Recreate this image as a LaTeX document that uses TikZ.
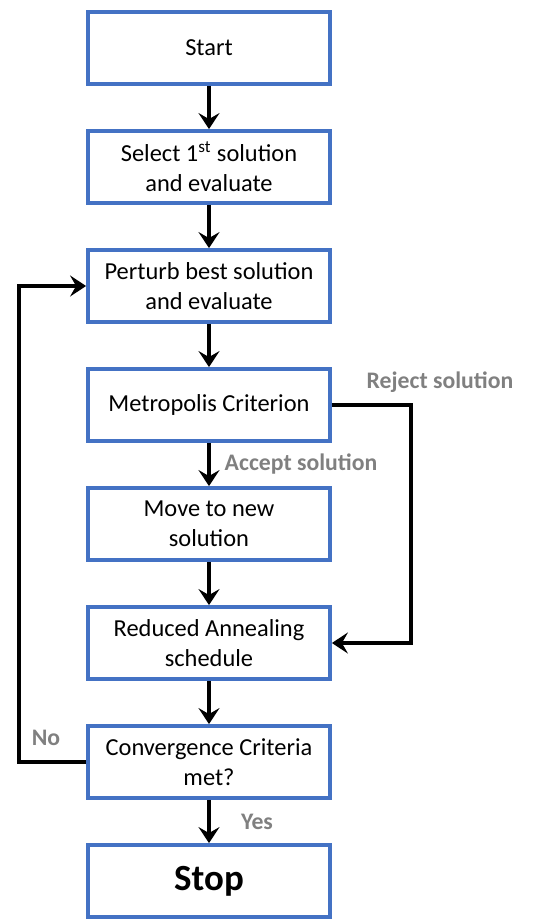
\documentclass[tikz,border=0pt]{standalone}
\usepackage{fontspec}
\setmainfont{Carlito}
\usepackage{xcolor}
\usetikzlibrary{arrows.meta}
\definecolor{boxblue}{RGB}{68,114,196}
\definecolor{labelgray}{RGB}{128,128,128}

\begin{document}
\begin{tikzpicture}[>={Stealth[length=0.32cm,width=0.42cm,inset=0.12cm]},x=0.02cm,y=-0.02cm,
    stepbox/.style={draw=boxblue,line width=2.2pt,fill=white,minimum width=4.84cm,
      minimum height=1.44cm,align=center,font=\fontsize{13.9}{17}\selectfont},
    flow/.style={->,line width=2.3pt,black},
    branch/.style={text=labelgray,font=\fontsize{13.5}{15}\selectfont\bfseries}]
  \useasboundingbox (0,0) rectangle (539,920);
  % main column of steps
  \node[stepbox] (start)   at (209,48)  {Start};
  \node[stepbox] (first)   at (209,167) {Select 1\textsuperscript{st} solution\\and evaluate};
  \node[stepbox] (perturb) at (209,286) {Perturb best solution\\and evaluate};
  \node[stepbox] (metro)   at (209,405) {Metropolis Criterion};
  \node[stepbox] (move)    at (209,524) {Move to new\\solution};
  \node[stepbox] (anneal)  at (209,643) {Reduced Annealing\\schedule};
  \node[stepbox] (conv)    at (209,762) {Convergence Criteria\\met?};
  \node[stepbox,font=\fontsize{21}{25}\selectfont\bfseries] (stop) at (209,881) {Stop};
  % straight arrows down the column
  \draw[flow] (start) -- (first);
  \draw[flow] (first) -- (perturb);
  \draw[flow] (perturb) -- (metro);
  \draw[flow] (metro) -- (move);
  \draw[flow] (move) -- (anneal);
  \draw[flow] (anneal) -- (conv);
  \draw[flow] (conv) -- (stop);
  % reject branch on the right
  \coordinate (rejcorner) at (411,405);
  \draw[flow] (metro.east) -- (rejcorner) |- (anneal.east);
  % loop back on the left
  \coordinate (nocorner) at (19,762);
  \draw[flow] (conv.west) -- (nocorner) |- (perturb.west);
  % branch labels
  \node[branch] (reject) at (440,382) {Reject solution};
  \node[branch] (accept) at (301,464) {Accept solution};
  \node[branch] (no)     at (46,738)  {No};
  \node[branch] (yes)    at (257,822) {Yes};
\end{tikzpicture}
\end{document}
